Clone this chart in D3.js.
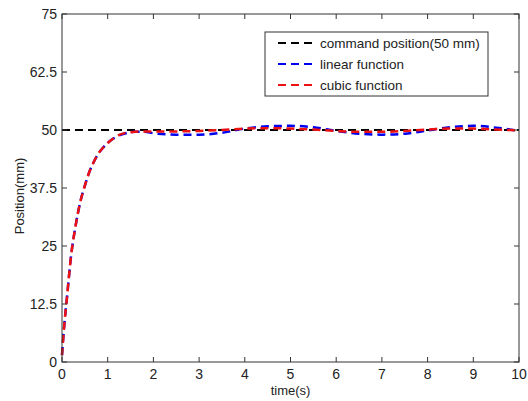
<!DOCTYPE html>
<html>
<head>
<meta charset="UTF-8">
<title>Position response</title>
<script src="https://cdn.jsdelivr.net/npm/d3@7"></script>
<style>
  body { margin: 0; background: #fff; }
  text { font-family: "Liberation Sans", Arial, sans-serif; fill: #222; }
</style>
</head>
<body>
<svg id="chart" width="528" height="401"></svg>
<script>
// data
var timeS = [0, 0.05, 0.1, 0.2, 0.3, 0.4, 0.5, 0.6, 0.7, 0.8, 0.9, 1.0, 1.1, 1.2, 1.4, 1.6, 1.8, 2.0, 2.5, 3.0, 3.5, 4.0, 4.5, 5.0, 5.5, 6.0, 6.5, 7.0, 7.5, 8.0, 8.5, 9.0, 9.5, 10];
var linearPos = [1.5, 8, 13, 23, 29.5, 34.5, 38, 41, 43.2, 45, 46.2, 47.2, 48, 48.6, 49.3, 49.6, 49.6, 49.3, 49.0, 49.0, 49.4, 50.3, 50.8, 50.9, 50.6, 49.8, 49.2, 49.0, 49.2, 49.9, 50.6, 50.9, 50.5, 49.8];
var cubicPos = [1.5, 8, 13, 23, 29.5, 34.5, 38, 41, 43.2, 45, 46.2, 47.2, 48, 48.7, 49.4, 49.6, 49.7, 49.7, 49.7, 49.8, 50.0, 50.3, 50.4, 50.3, 50.1, 49.8, 49.6, 49.6, 49.8, 50.1, 50.3, 50.3, 50.1, 49.9];
var commandPos = 50;
var xTicks = [0, 1, 2, 3, 4, 5, 6, 7, 8, 9, 10];
var yTicks = [0, 12.5, 25, 37.5, 50, 62.5, 75];
var seriesNames = ["command position(50 mm)", "linear function", "cubic function"];
var seriesColors = ["#000000", "#0000ee", "#ee1111"];

(function () {
var svg = d3.select("#chart");
var pl = 62, pr = 519, pt = 14, pb = 362;

var x = d3.scaleLinear().domain([0, 10]).range([pl, pr]);
var y = d3.scaleLinear().domain([0, 75]).range([pb, pt]);

var line = d3.line().x(function (d) { return x(d[0]); }).y(function (d) { return y(d[1]); })
  .curve(d3.curveMonotoneX);

svg.append("path").datum([[0, commandPos], [10, commandPos]]).attr("d", line)
  .attr("fill", "none").attr("stroke", seriesColors[0]).attr("stroke-width", 2).attr("stroke-dasharray", "8,5");
svg.append("path").datum(timeS.map(function (t, i) { return [t, linearPos[i]]; })).attr("d", line)
  .attr("fill", "none").attr("stroke", seriesColors[1]).attr("stroke-width", 2.5).attr("stroke-dasharray", "8,5");
svg.append("path").datum(timeS.map(function (t, i) { return [t, cubicPos[i]]; })).attr("d", line)
  .attr("fill", "none").attr("stroke", seriesColors[2]).attr("stroke-width", 2.5).attr("stroke-dasharray", "8,5").attr("stroke-dashoffset", 1);

// box
svg.append("rect").attr("x", pl).attr("y", pt)
  .attr("width", pr - pl).attr("height", pb - pt)
  .attr("fill", "none").attr("stroke", "#333").attr("stroke-width", 1);

// inward ticks on all four sides
var tl = 5;
xTicks.forEach(function (t) {
  svg.append("line").attr("x1", x(t)).attr("x2", x(t)).attr("y1", pb).attr("y2", pb - tl).attr("stroke", "#333");
  svg.append("line").attr("x1", x(t)).attr("x2", x(t)).attr("y1", pt).attr("y2", pt + tl).attr("stroke", "#333");
  svg.append("text").attr("x", x(t)).attr("y", pb + 17).attr("text-anchor", "middle")
    .style("font-size", "14px").text(t);
});
yTicks.forEach(function (t) {
  svg.append("line").attr("x1", pl).attr("x2", pl + tl).attr("y1", y(t)).attr("y2", y(t)).attr("stroke", "#333");
  svg.append("line").attr("x1", pr).attr("x2", pr - tl).attr("y1", y(t)).attr("y2", y(t)).attr("stroke", "#333");
  svg.append("text").attr("x", pl - 5).attr("y", y(t) + 5).attr("text-anchor", "end")
    .style("font-size", "14px").text(t);
});

svg.append("text").attr("x", (pl + pr) / 2).attr("y", 395).attr("text-anchor", "middle")
  .style("font-size", "13px").text("time(s)");
svg.append("text").attr("transform", "translate(24,196) rotate(-90)")
  .attr("text-anchor", "middle").style("font-size", "13px").text("Position(mm)");

// legend
var lg = svg.append("g");
lg.append("rect").attr("x", 265).attr("y", 32).attr("width", 223).attr("height", 64)
  .attr("fill", "#fff").attr("stroke", "#333");
seriesNames.forEach(function (n, i) {
  var yy = 43 + i * 21;
  lg.append("line").attr("x1", 278).attr("x2", 317).attr("y1", yy).attr("y2", yy)
    .attr("stroke", seriesColors[i]).attr("stroke-width", 2).attr("stroke-dasharray", "8,5");
  lg.append("text").attr("x", 320).attr("y", yy + 5).style("font-size", "13.5px").text(n);
});
})();
</script>
</body>
</html>
